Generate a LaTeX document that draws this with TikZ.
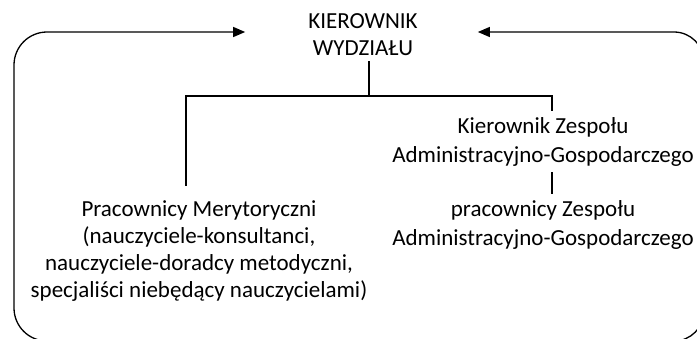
\documentclass[tikz,border=0pt]{standalone}
\usepackage{fontspec}
\setmainfont{Carlito}
\usetikzlibrary{
		calc,
		positioning,
		arrows.meta
	}
\tikzset{
		>={Triangle[length=12pt,width=10pt]}
	}

\begin{document}
\begin{tikzpicture}[x=1pt, y=-1pt,
		unit/.style={align=center, inner sep=6pt, font=\fontsize{23}{27}\selectfont},
		wide/.style={unit, font=\fontsize{23}{29}\selectfont},
		link/.style={line width=1.3pt, black},
		loop/.style={link, ->, rounded corners=33pt}]
		\useasboundingbox (0,0) rectangle (697,338);
		\node[unit, anchor=base] (boss) at (363,55) {KIEROWNIK\\WYDZIAŁU};
		\node[wide, anchor=base] (mgr) at (543,162) {Kierownik Zespołu\\Administracyjno-Gospodarczego};
		\node[wide, below=22pt of mgr] (admin) {pracownicy Zespołu\\Administracyjno-Gospodarczego};
		\node[unit, anchor=base] (staff) at (199,297) {Pracownicy Merytoryczni\\(nauczyciele-konsultanci,\\nauczyciele-doradcy metodyczni,\\specjaliści niebędący nauczycielami)};
		% tree under the boss
		\coordinate (split) at (369,96);
		\coordinate (tl) at (186,96);
		\coordinate (tr) at (552,96);
		\draw[link] (boss.south -| split) -- (split);
		\draw[link, shorten <=8pt] (staff.north -| tl) -- (tl) -- (tr) -- (mgr.north -| tr);
		\draw[link] (mgr.south -| tr) -- (admin.north -| tr);
		% loops back to the boss, cut by the page
		\coordinate (loopL) at (120,341);
		\coordinate (loopR) at (600,341);
		\coordinate (topL) at (14,32);
		\coordinate (topR) at (704,32);
		\draw[loop, shorten >=57pt] (loopL) -- (14,341) -- (topL) -- (topL -| boss.west);
		\draw[loop, rounded corners=30pt, shorten >=54pt] (loopR) -- (704,341) -- (topR) -- (topR -| boss.east);
	\end{tikzpicture}
\end{document}
